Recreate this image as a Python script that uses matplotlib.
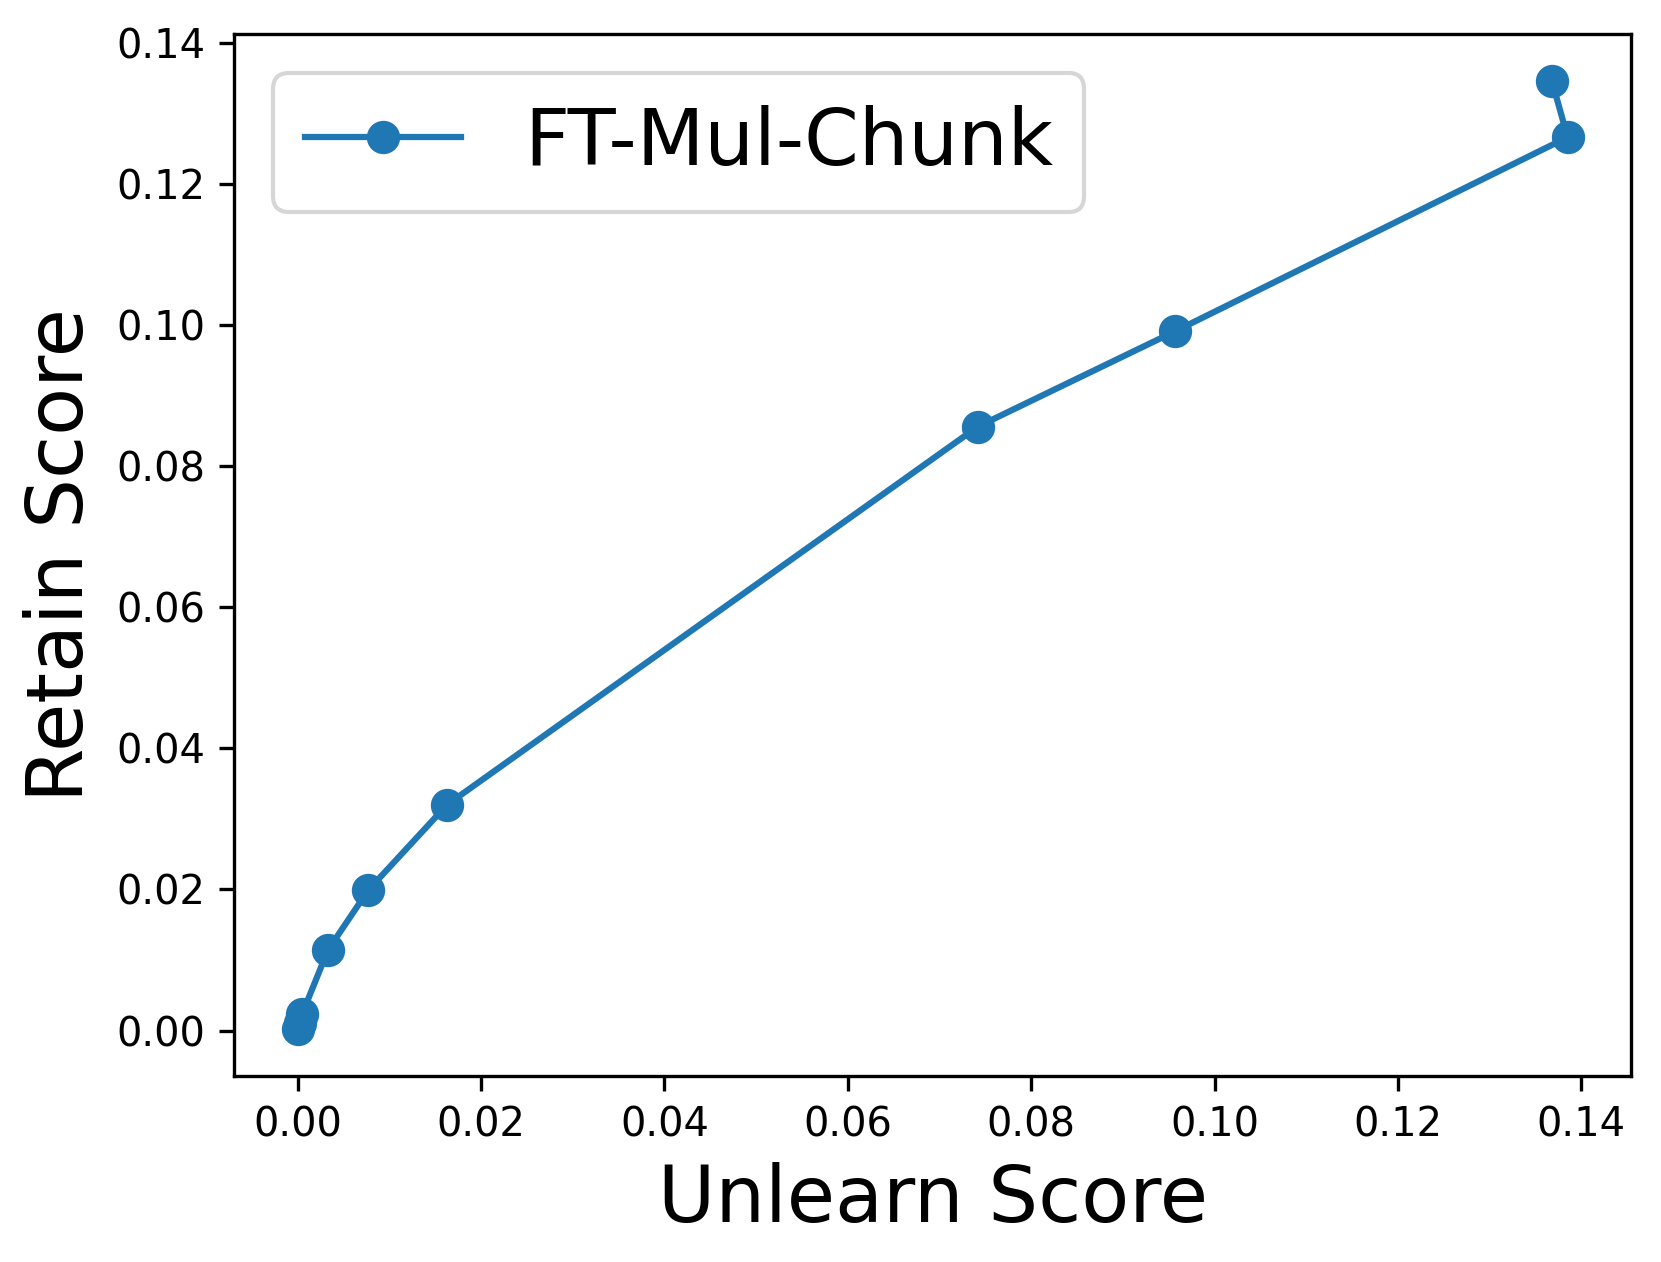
import matplotlib.pyplot as plt

# values
unlearn = [0.1368, 0.1385, 0.0957, 0.0742, 0.0163, 0.0077, 0.0033, 0.0005, 0.0002, 0.0000]
retain = [0.1345, 0.1266, 0.0991, 0.0856, 0.0320, 0.0199, 0.0114, 0.0024, 0.0010, 0.0002]

fig = plt.figure(figsize=(1661 / 300, 1262 / 300), dpi=300)
ax = fig.add_axes([0.141, 0.147, 0.841, 0.826])

ax.plot(unlearn, retain, marker="o", color="#1f77b4", linewidth=1.5, markersize=7,
        label="FT-Mul-Chunk")

ax.set_xlabel("Unlearn Score", fontsize=18.8)
ax.set_ylabel("Retain Score", fontsize=18.8)
ax.tick_params(labelsize=9.6)
ax.legend(loc="upper left", fontsize=18.8)

fig.savefig("out.png", dpi=300)
